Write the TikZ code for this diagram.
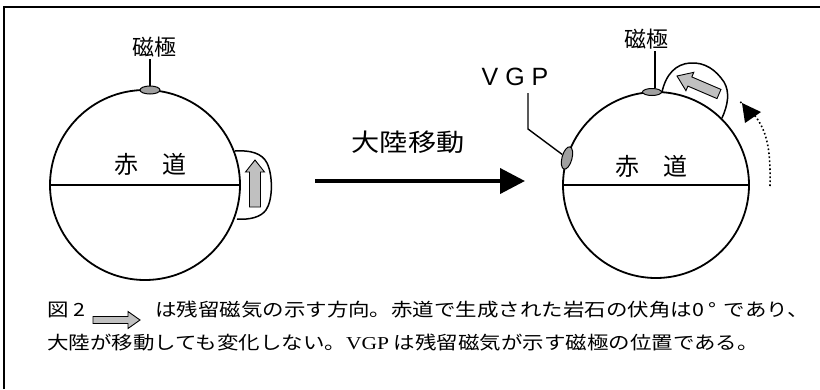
\documentclass[tikz,border=0pt]{standalone}
\usepackage{fontspec}
\setmainfont{Liberation Sans}
\newfontfamily\jp{Noto Sans CJK JP}
\newfontfamily\latinserif{Liberation Serif}
\usetikzlibrary{calc,shapes.geometric,arrows.meta}

\definecolor{arrowgray}{RGB}{192,192,192}
\definecolor{polegray}{RGB}{160,160,160}

\newcommand\jpsize[1]{\fontsize{#1}{#1}\selectfont}

% gray block arrow: name, tail, tip, half shaft width, half head width, head length
\newcommand\blockarrow[6]{%
  \coordinate (#1-base) at ($(#3)!#6!(#2)$);
  \filldraw[blockarrow]
    ($(#2)!#4!90:(#3)$) -- ($(#1-base)!#4!90:(#3)$) -- ($(#1-base)!#5!90:(#3)$)
    -- (#3) -- ($(#1-base)!#5!-90:(#3)$) -- ($(#1-base)!#4!-90:(#3)$)
    -- ($(#2)!#4!-90:(#3)$) -- cycle;
}

\tikzset{
  globe/.style={circle, draw, line width=1.8pt, inner sep=0pt, outer sep=0pt},
  equator/.style={line width=1.6pt},
  pole/.style={ellipse, draw, fill=polegray, line width=1pt, inner sep=0pt},
  leader/.style={line width=1.4pt},
  bubble/.style={line width=1.5pt},
  blockarrow/.style={fill=arrowgray, draw=black, line width=0.9pt, line join=miter},
  jptext/.style={inner sep=0pt},
  move/.style={line width=4pt, -{Triangle[length=25pt,width=25pt]}},
  drift/.style={line width=1.6pt, dash pattern=on 1.6pt off 2.4pt},
  frame/.style={line width=2pt, line join=miter},
}

\begin{document}
\begin{tikzpicture}[x=1pt, y=-1pt]
\useasboundingbox (0,0) rectangle (820,389);

% outer frame
\draw[frame] (4,389) -- (4,6.5) -- (820,6.5);

% ---- left globe (before drift) ----
\node[globe, minimum size=190pt] (lglobe) at (145,185) {};
\draw[equator] (lglobe.west) -- (lglobe.east);
\node[jptext, font=\jp\jpsize{24}] (lequator) at (150,164) {赤　道};
\node[pole, minimum width=20pt, minimum height=8pt] (lpole) at (150,90) {};
\node[jptext, font=\jp\jpsize{22}] (lpole-label) at (154,47) {磁極};
\draw[leader] (lpole.north |- lpole-label.south) ++(0,2) -- (lpole.north);

% magnetisation bubble on the left globe
\draw[bubble] (235,151) .. controls (250,150) and (262,153) .. (267,163)
  .. controls (273,175) and (273,200) .. (266,210)
  .. controls (261,217) and (250,220) .. (237,219);
\coordinate (larrow-tail) at (255,207);
\coordinate (larrow-tip) at (255,160);
\blockarrow{larrow}{larrow-tail}{larrow-tip}{5.5pt}{9.5pt}{12pt}

% ---- continental drift arrow ----
\coordinate (move-start) at (315,181);
\coordinate (move-end) at (525,181);
\draw[move] (move-start) -- (move-end);
\node[jptext, font=\jp\jpsize{24.5}, xscale=1.15, transform shape] (move-label) at (408,142) {大陸移動};

% ---- right globe (after drift) ----
\node[globe, minimum size=186pt] (rglobe) at (656,185) {};
\draw[equator] (rglobe.west) -- (rglobe.east);
\node[jptext, font=\jp\jpsize{24}] (requator) at (651,166) {赤　道};
\node[pole, minimum width=19pt, minimum height=7pt] (rpole) at (652,92) {};
\node[jptext, font=\jp\jpsize{22}] (rpole-label) at (646,39) {磁極};
\coordinate (rpole-top) at (655,88);
\draw[leader] (rpole-top |- rpole-label.south) ++(0,2) -- (rpole-top);

% magnetisation bubble on the right globe
\draw[bubble] (rpole.east) .. controls (666,74) and (676,64) .. (690,63)
  .. controls (705,62) and (716,70) .. (724,82)
  .. controls (730,92) and (728,105) .. (722,118);
\coordinate (rarrow-tail) at (719,94);
\coordinate (rarrow-tip) at (677,76);
\blockarrow{rarrow}{rarrow-tail}{rarrow-tip}{5pt}{10pt}{14pt}

% virtual geomagnetic pole
\node[pole, minimum width=10pt, minimum height=23pt, rotate=-15] (vgp) at (567,158) {};
\node[inner sep=0pt, font=\fontsize{25}{25}\selectfont] (vgp-label) at (515,77) {V G P};
\coordinate (vgp-top) at (528,93);
\coordinate (vgp-bend) at (528,129);
\draw[leader] (vgp-top) -- (vgp-bend) -- (vgp);

% rotation of the globe (dotted arrow)
\coordinate (drift-start) at (770,186);
\coordinate (drift-end) at (739,101);
\draw[drift] (drift-start) .. controls (771,140) and (765,120) .. (drift-end);
\fill (742,103) -- (761,112) -- (745,123) -- cycle;

% ---- caption ----
\node[jptext, font=\jp\jpsize{18.2}, xscale=1.18, transform shape, anchor=west] (cap-fig) at (47,310) {図 2};
\coordinate (cap-arrow-tail) at (93,320);
\coordinate (cap-arrow-tip) at (140,320);
\blockarrow{caparrow}{cap-arrow-tail}{cap-arrow-tip}{3.5pt}{8.5pt}{12pt}
\node[jptext, font=\jp\jpsize{18.2}, xscale=1.18, transform shape, anchor=west] (cap-line1) at (155,310)
  {は残留磁気の示す方向。赤道で生成された岩石の伏角は0\hspace{4pt}°\hspace{6pt}であり、};
\node[jptext, font=\jp\jpsize{18.2}, xscale=1.18, transform shape, anchor=west] (cap-line2) at (47,343)
  {大陸が移動しても変化しない。{\latinserif VGP} は残留磁気が示す磁極の位置である。};
\end{tikzpicture}
\end{document}
